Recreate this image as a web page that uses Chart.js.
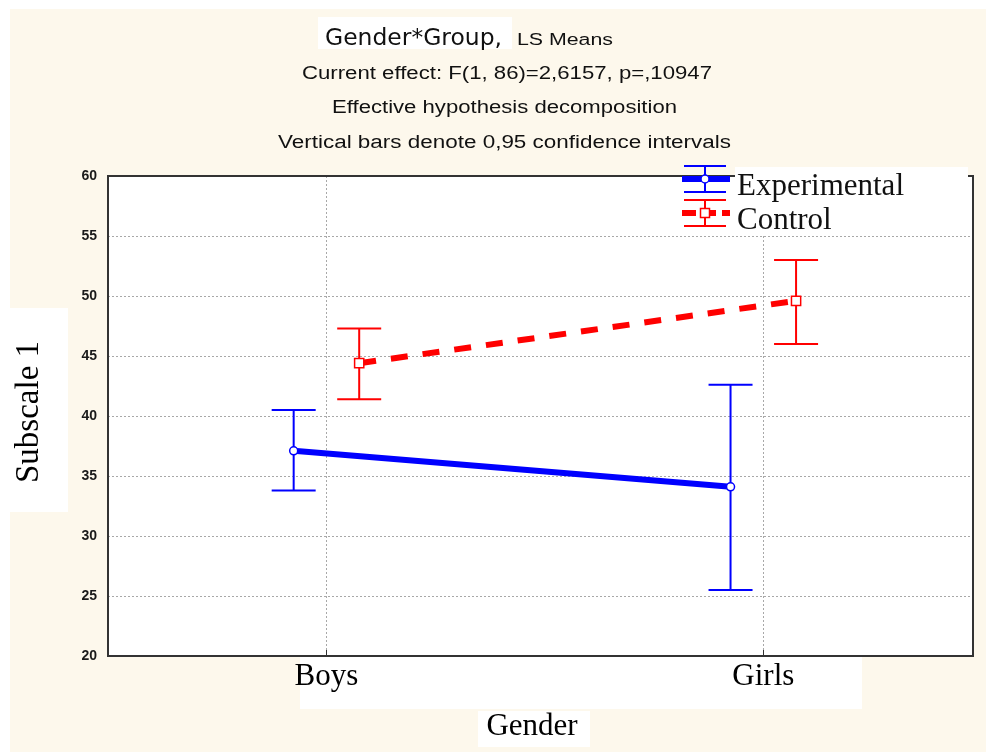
<!DOCTYPE html>
<html>
<head>
<meta charset="utf-8">
<title>Gender*Group, LS Means</title>
<script src="https://cdn.jsdelivr.net/npm/chart.js@4"></script>
<style>
  html, body { margin: 0; padding: 0; background: #fff; }
  #wrap { width: 986px; height: 752px; }
</style>
</head>
<body>
<div id="wrap"><canvas id="lsChart" width="986" height="752"></canvas></div>
<script>
// LS means and 0.95 CI limits
const genders = ['Boys', 'Girls'];
const expMeans = [37.1, 34.1];
const expLower = [33.8, 25.5];
const expUpper = [40.5, 42.6];
const ctrlMeans = [44.4, 49.6];
const ctrlLower = [41.4, 46.0];
const ctrlUpper = [47.3, 53.0];
const yMin = 20, yMax = 60, yStep = 5;

// the two groups sit a little left / right of each gender
const groupShift = 0.075;

const CREAM = '#fdf8ec';
const BLUE = '#0000ff';
const RED = '#ff0000';

function toPoints(means, shift) {
  return means.map((v, i) => ({ x: i + 0.5 + shift, y: v }));
}

// draw text squeezed/stretched to fit between left and right
function fitText(ctx, text, left, right, baseline, font, color) {
  ctx.save();
  ctx.font = font;
  ctx.fillStyle = color;
  ctx.textBaseline = 'alphabetic';
  ctx.textAlign = 'left';
  const w = ctx.measureText(text).width;
  ctx.translate(left, baseline);
  ctx.scale((right - left) / w, 1);
  ctx.fillText(text, 0, 0);
  ctx.restore();
}

// backgrounds, titles, white label boxes
const backdrop = {
  id: 'backdrop',
  beforeDraw(chart) {
    const { ctx, chartArea: a } = chart;
    ctx.save();
    ctx.fillStyle = '#fff';
    ctx.fillRect(0, 0, chart.width, chart.height);
    ctx.fillStyle = CREAM;
    ctx.fillRect(10, 9, chart.width - 10, chart.height - 9);
    ctx.fillStyle = '#fff';
    ctx.fillRect(a.left, a.top, a.right - a.left, a.bottom - a.top);
    ctx.fillRect(318, 17, 194, 32);   // title box
    ctx.fillRect(10, 308, 58, 204);   // y title box
    ctx.fillRect(300, 657, 562, 52);  // x tick label band
    ctx.fillRect(478, 711, 112, 36);  // x title box
    ctx.restore();

    fitText(ctx, 'Gender*Group,', 325, 502, 45, '23px "DejaVu Sans"', '#111');
    fitText(ctx, 'LS Means', 517, 613, 45, '16px "Liberation Sans"', '#111');
    fitText(ctx, 'Current effect: F(1, 86)=2,6157, p=,10947', 302, 712, 79, '18px "Liberation Sans"', '#111');
    fitText(ctx, 'Effective hypothesis decomposition', 332, 677, 113, '18px "Liberation Sans"', '#111');
    fitText(ctx, 'Vertical bars denote 0,95 confidence intervals', 278, 731, 148, '18px "Liberation Sans"', '#111');

    ctx.save();
    ctx.fillStyle = '#000';
    ctx.font = '31px "Liberation Serif"';
    ctx.textAlign = 'center';
    ctx.textBaseline = 'middle';
    ctx.fillText('Gender', 532, 727);
    ctx.translate(29, 412);
    ctx.rotate(-Math.PI / 2);
    ctx.font = '33px "Liberation Serif"';
    ctx.fillText('Subscale 1', 0, 0);
    ctx.restore();
  }
};

// vertical confidence bars under the markers
const errorBars = {
  id: 'errorBars',
  beforeDatasetsDraw(chart) {
    const { ctx } = chart;
    const yScale = chart.scales.y;
    chart.data.datasets.forEach((ds, di) => {
      const meta = chart.getDatasetMeta(di);
      ctx.save();
      ctx.strokeStyle = ds.borderColor;
      ctx.lineWidth = 2;
      meta.data.forEach((pt, i) => {
        const top = yScale.getPixelForValue(ds.upper[i]);
        const bot = yScale.getPixelForValue(ds.lower[i]);
        ctx.beginPath();
        ctx.moveTo(pt.x, top);
        ctx.lineTo(pt.x, bot);
        ctx.moveTo(pt.x - 22, top);
        ctx.lineTo(pt.x + 22, top);
        ctx.moveTo(pt.x - 22, bot);
        ctx.lineTo(pt.x + 22, bot);
        ctx.stroke();
      });
      ctx.restore();
    });
  }
};

// plot frame, bottom ticks and the legend
const frameLegend = {
  id: 'frameLegend',
  afterDraw(chart) {
    const { ctx, chartArea: a } = chart;
    const xScale = chart.scales.x;
    ctx.save();
    ctx.strokeStyle = '#333';
    ctx.lineWidth = 2;
    ctx.strokeRect(a.left, a.top, a.right - a.left, a.bottom - a.top);
    ctx.lineWidth = 1;
    xScale.ticks.forEach(t => {
      const px = Math.round(xScale.getPixelForValue(t.value)) + 0.5;
      ctx.beginPath();
      ctx.moveTo(px, a.bottom);
      ctx.lineTo(px, a.bottom - 6);
      ctx.stroke();
    });

    // legend box
    ctx.fillStyle = '#fff';
    ctx.fillRect(735, 167, 233, 69);

    const items = [
      { label: 'Experimental', color: BLUE, y: 179, dash: [], style: 'circle' },
      { label: 'Control', color: RED, y: 213, dash: [14, 6], style: 'rect' }
    ];
    items.forEach(it => {
      const cx = 705;
      ctx.strokeStyle = it.color;
      ctx.lineWidth = 2;
      ctx.setLineDash([]);
      ctx.beginPath();
      ctx.moveTo(cx, it.y - 13);
      ctx.lineTo(cx, it.y + 13);
      ctx.moveTo(cx - 21, it.y - 13);
      ctx.lineTo(cx + 21, it.y - 13);
      ctx.moveTo(cx - 21, it.y + 13);
      ctx.lineTo(cx + 21, it.y + 13);
      ctx.stroke();
      ctx.lineWidth = 6;
      ctx.setLineDash(it.dash);
      ctx.beginPath();
      ctx.moveTo(cx - 23, it.y);
      ctx.lineTo(cx + 25, it.y);
      ctx.stroke();
      ctx.setLineDash([]);
      ctx.lineWidth = 1.5;
      ctx.fillStyle = '#fff';
      ctx.beginPath();
      if (it.style === 'circle') {
        ctx.arc(cx, it.y, 4, 0, Math.PI * 2);
      } else {
        ctx.rect(cx - 4.5, it.y - 4.5, 9, 9);
      }
      ctx.fill();
      ctx.stroke();

      ctx.fillStyle = '#111';
      ctx.font = '31px "Liberation Serif"';
      ctx.textAlign = 'left';
      ctx.textBaseline = 'alphabetic';
      ctx.fillText(it.label, 737, it.y + 16);
    });
    ctx.restore();
  }
};

const ctx = document.getElementById('lsChart').getContext('2d');
new Chart(ctx, {
  type: 'line',
  data: {
    datasets: [
      {
        label: 'Experimental',
        data: toPoints(expMeans, -groupShift),
        lower: expLower,
        upper: expUpper,
        borderColor: BLUE,
        borderWidth: 6,
        pointStyle: 'circle',
        pointRadius: 4,
        pointBorderWidth: 1.5,
        pointBackgroundColor: '#fff',
        pointBorderColor: BLUE,
        tension: 0
      },
      {
        label: 'Control',
        data: toPoints(ctrlMeans, groupShift),
        lower: ctrlLower,
        upper: ctrlUpper,
        borderColor: RED,
        borderWidth: 6,
        borderDash: [17, 15],
        pointStyle: 'rect',
        pointRadius: 6.5,
        pointBorderWidth: 1.5,
        pointBackgroundColor: '#fff',
        pointBorderColor: RED,
        tension: 0
      }
    ]
  },
  options: {
    responsive: false,
    animation: false,
    layout: { padding: { left: 0, top: 176, right: 13, bottom: 0 } },
    plugins: {
      legend: { display: false },
      title: { display: false },
      tooltip: { enabled: false }
    },
    scales: {
      x: {
        type: 'linear',
        min: 0,
        max: 1.98,
        afterBuildTicks: axis => {
          axis.ticks = genders.map((g, i) => ({ value: i + 0.5 }));
        },
        afterFit: scale => { scale.height = 96; },
        ticks: {
          autoSkip: false,
          maxRotation: 0,
          padding: 2,
          color: '#000',
          font: { family: 'Liberation Serif', size: 31 },
          callback: v => genders[Math.round(v - 0.5)]
        },
        grid: { color: '#a8a8a8', lineWidth: 1, drawTicks: false },
        border: { display: false, dash: [2, 2] }
      },
      y: {
        min: yMin,
        max: yMax,
        afterFit: scale => { scale.width = 108; },
        ticks: {
          stepSize: yStep,
          padding: 11,
          color: '#1a1a1a',
          font: { family: 'Liberation Sans', size: 14, weight: 'bold' }
        },
        grid: { color: '#a8a8a8', lineWidth: 1, drawTicks: false },
        border: { display: false, dash: [2, 2] }
      }
    }
  },
  plugins: [backdrop, errorBars, frameLegend]
});
</script>
</body>
</html>
